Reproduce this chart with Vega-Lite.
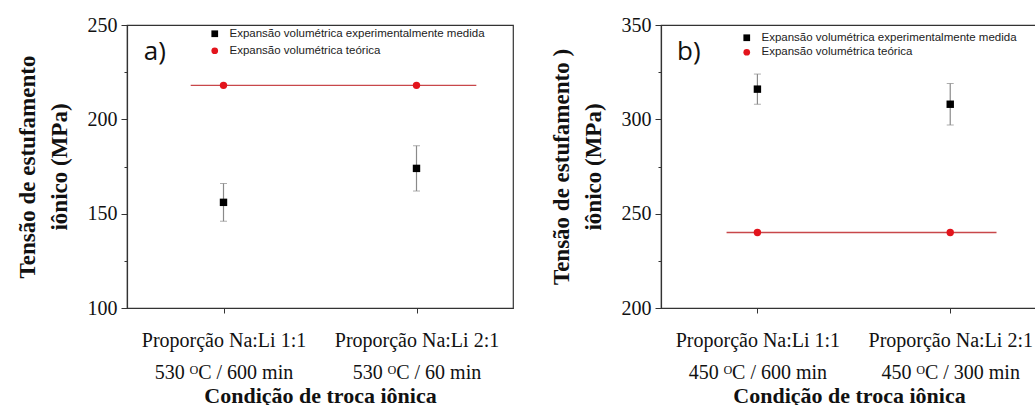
{
  "$schema": "https://vega.github.io/schema/vega-lite/v6.json",
  "padding": {"left": 15, "top": 14, "right": 0, "bottom": 0},
  "background": "white",
  "datasets": {
    "pontosA": [
      {"cond": 1, "serie": "Expansão volumétrica experimentalmente medida", "tensao": 156, "erro": 10},
      {"cond": 2, "serie": "Expansão volumétrica experimentalmente medida", "tensao": 174, "erro": 12},
      {"cond": 1, "serie": "Expansão volumétrica teórica", "tensao": 218, "erro": 0},
      {"cond": 2, "serie": "Expansão volumétrica teórica", "tensao": 218, "erro": 0}
    ],
    "linhaA": [
      {"cond": 0.83, "tensao": 218},
      {"cond": 2.31, "tensao": 218}
    ],
    "pontosB": [
      {"cond": 1, "serie": "Expansão volumétrica experimentalmente medida", "tensao": 316, "erro": 8},
      {"cond": 2, "serie": "Expansão volumétrica experimentalmente medida", "tensao": 308, "erro": 11},
      {"cond": 1, "serie": "Expansão volumétrica teórica", "tensao": 240, "erro": 0},
      {"cond": 2, "serie": "Expansão volumétrica teórica", "tensao": 240, "erro": 0}
    ],
    "linhaB": [
      {"cond": 0.84, "tensao": 240},
      {"cond": 2.24, "tensao": 240}
    ]
  },
  "hconcat": [
    {
      "width": 386,
      "height": 283,
      "layer": [
        {
          "data": {"name": "linhaA"},
          "mark": {"type": "line", "color": "#c8474a", "strokeWidth": 1.4},
          "encoding": {
            "x": {"field": "cond", "type": "quantitative", "title": "Condição de troca iônica"},
            "y": {"field": "tensao", "type": "quantitative", "title": ["Tensão de estufamento", "iônico (MPa)"]}
          }
        },
        {
          "data": {"name": "pontosA"},
          "transform": [{"filter": "datum.erro > 0"}],
          "mark": {"type": "errorbar", "ticks": {"size": 7, "color": "#8a8a8a"}, "rule": {"color": "#8a8a8a", "strokeWidth": 1.2}},
          "encoding": {
            "x": {"field": "cond", "type": "quantitative", "title": "Condição de troca iônica"},
            "y": {"field": "tensao", "type": "quantitative", "title": ["Tensão de estufamento", "iônico (MPa)"]},
            "yError": {"field": "erro"}
          }
        },
        {
          "data": {"name": "pontosA"},
          "mark": {"type": "point", "filled": true, "opacity": 1, "size": 55},
          "encoding": {
            "x": {
              "field": "cond", "type": "quantitative", "title": "Condição de troca iônica",
              "scale": {"domain": [0.5, 2.5], "nice": false, "zero": false},
              "axis": {
                "values": [1, 2],
                "labelExpr": "datum.value == 1 ? ['Proporção Na:Li 1:1', '530 ᴼC / 600 min'] : ['Proporção Na:Li 2:1', '530 ᴼC / 60 min']"
              }
            },
            "y": {
              "field": "tensao", "type": "quantitative", "title": ["Tensão de estufamento", "iônico (MPa)"],
              "scale": {"domain": [100, 250], "nice": false, "zero": false},
              "axis": {
                "values": [100, 125, 150, 175, 200, 225, 250],
                "labelExpr": "datum.value % 50 ? '' : datum.label",
                "tickSize": {"condition": {"test": "datum.value % 50 != 0", "value": 3}, "value": 6}
              }
            },
            "shape": {
              "field": "serie", "type": "nominal",
              "scale": {"domain": ["Expansão volumétrica experimentalmente medida", "Expansão volumétrica teórica"], "range": ["square", "circle"]},
              "legend": {"orient": "none", "legendX": 82, "legendY": 3, "title": null, "rowPadding": 4}
            },
            "color": {
              "field": "serie", "type": "nominal",
              "scale": {"domain": ["Expansão volumétrica experimentalmente medida", "Expansão volumétrica teórica"], "range": ["#000000", "#e3141c"]},
              "legend": {"orient": "none", "legendX": 82, "legendY": 3, "title": null, "rowPadding": 4}
            }
          }
        },
        {
          "data": {"values": [{"rotulo": "a)"}]},
          "mark": {"type": "text", "font": "Open Sans", "fontSize": 26, "align": "left", "baseline": "middle", "color": "#111"},
          "encoding": {
            "x": {"datum": 0.587, "type": "quantitative", "title": "Condição de troca iônica"},
            "y": {"datum": 235.7, "type": "quantitative", "title": ["Tensão de estufamento", "iônico (MPa)"]},
            "text": {"field": "rotulo"}
          }
        }
      ]
    },
    {
      "width": 376,
      "height": 283,
      "layer": [
        {
          "data": {"name": "linhaB"},
          "mark": {"type": "line", "color": "#c8474a", "strokeWidth": 1.4},
          "encoding": {
            "x": {"field": "cond", "type": "quantitative", "title": "Condição de troca iônica"},
            "y": {"field": "tensao", "type": "quantitative", "title": ["Tensão de estufamento )", "iônico (MPa)"]}
          }
        },
        {
          "data": {"name": "pontosB"},
          "transform": [{"filter": "datum.erro > 0"}],
          "mark": {"type": "errorbar", "ticks": {"size": 7, "color": "#8a8a8a"}, "rule": {"color": "#8a8a8a", "strokeWidth": 1.2}},
          "encoding": {
            "x": {"field": "cond", "type": "quantitative", "title": "Condição de troca iônica"},
            "y": {"field": "tensao", "type": "quantitative", "title": ["Tensão de estufamento )", "iônico (MPa)"]},
            "yError": {"field": "erro"}
          }
        },
        {
          "data": {"name": "pontosB"},
          "mark": {"type": "point", "filled": true, "opacity": 1, "size": 55},
          "encoding": {
            "x": {
              "field": "cond", "type": "quantitative", "title": "Condição de troca iônica",
              "scale": {"domain": [0.5, 2.45], "nice": false, "zero": false},
              "axis": {
                "values": [1, 2],
                "labelExpr": "datum.value == 1 ? ['Proporção Na:Li 1:1', '450 ᴼC / 600 min'] : ['Proporção Na:Li 2:1', '450 ᴼC / 300 min']"
              }
            },
            "y": {
              "field": "tensao", "type": "quantitative", "title": ["Tensão de estufamento )", "iônico (MPa)"],
              "scale": {"domain": [200, 350], "nice": false, "zero": false},
              "axis": {
                "values": [200, 225, 250, 275, 300, 325, 350],
                "labelExpr": "datum.value % 50 ? '' : datum.label",
                "tickSize": {"condition": {"test": "datum.value % 50 != 0", "value": 3}, "value": 6}
              }
            },
            "shape": {
              "field": "serie", "type": "nominal",
              "scale": {"domain": ["Expansão volumétrica experimentalmente medida", "Expansão volumétrica teórica"], "range": ["square", "circle"]},
              "legend": {"orient": "none", "legendX": 80, "legendY": 7, "title": null, "rowPadding": 1.5}
            },
            "color": {
              "field": "serie", "type": "nominal",
              "scale": {"domain": ["Expansão volumétrica experimentalmente medida", "Expansão volumétrica teórica"], "range": ["#000000", "#e3141c"]},
              "legend": {"orient": "none", "legendX": 80, "legendY": 7, "title": null, "rowPadding": 1.5}
            }
          }
        },
        {
          "data": {"values": [{"rotulo": "b)"}]},
          "mark": {"type": "text", "font": "Open Sans", "fontSize": 26, "align": "left", "baseline": "middle", "color": "#111"},
          "encoding": {
            "x": {"datum": 0.583, "type": "quantitative", "title": "Condição de troca iônica"},
            "y": {"datum": 335.7, "type": "quantitative", "title": ["Tensão de estufamento )", "iônico (MPa)"]},
            "text": {"field": "rotulo"}
          }
        }
      ]
    }
  ],
  "spacing": 35,
  "resolve": {
    "scale": {"x": "independent", "y": "independent", "color": "independent", "shape": "independent"},
    "legend": {"color": "independent", "shape": "independent"}
  },
  "config": {
    "view": {"stroke": "#333", "strokeWidth": 1.2},
    "axis": {
      "grid": false,
      "domainColor": "#333",
      "domainWidth": 1.2,
      "tickColor": "#333",
      "tickWidth": 1,
      "labelFont": "Liberation Serif",
      "labelColor": "#111",
      "labelFontSize": 20,
      "titleFont": "Liberation Serif",
      "titleFontWeight": "bold",
      "titleColor": "#111",
      "titleFontSize": 22
    },
    "axisX": {"tickSize": 5, "labelPadding": 17, "labelLineHeight": 32, "titlePadding": 3, "labelFlush": false},
    "axisY": {"labelPadding": 4, "titlePadding": 16, "titleLineHeight": 32, "titleFontSize": 23},
    "legend": {
      "labelFont": "Liberation Sans",
      "labelFontSize": 11.5,
      "labelColor": "#222",
      "labelLimit": 400,
      "labelOffset": 9,
      "symbolSize": 45,
      "padding": 0,
      "symbolStrokeWidth": 0
    }
  }
}
